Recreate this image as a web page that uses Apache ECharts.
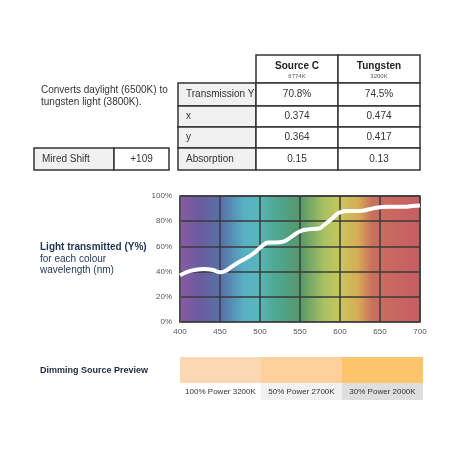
<!DOCTYPE html>
<html><head><meta charset="utf-8">
<script src="https://cdn.jsdelivr.net/npm/echarts@6/dist/echarts.min.js"></script>
<style>html,body{margin:0;padding:0;background:#fff}#c{width:458px;height:458px}</style>
</head><body><div id="c"></div>
<script>
const wavelengths=[400,410,420,430,440,450,455,465,475,485,495,500,505,510,520,530,540,550,560,570,575,580,590,600,610,620,630,640,650,660,670,680,690,700];
const transmission=[37,40,41.5,42,41.5,39.5,40,44,48,51.5,56,59,61.5,63,63,64,68,72,73.5,74,74.5,77,82,87,88,88,88.5,90,91,91.5,91.5,91.5,92,92.5];
const yTicks=[0,20,40,60,80,100];
const headers=[["Source C","6774K"],["Tungsten","3200K"]];
const rowLabels=["Transmission Y","x","y","Absorption"];
const sourceC=["70.8%","0.374","0.364","0.15"];
const tungsten=["74.5%","0.474","0.417","0.13"];
const miredLabel="Mired Shift", miredValue="+109";
const dimLabels=["100% Power 3200K","50% Power 2700K","30% Power 2000K"];
const dimColors=["#fcd8b2","#fdd09c","#fdc56b"];
const dimLabelBg=["#ffffff","#f1f1f1","#dedede"];

const g=[];
const F='Liberation Sans, Arial, sans-serif';
function cell(x,y,w,h,fill,txt,align,size,bold){
  g.push({type:'rect',shape:{x,y,width:w,height:h},style:{fill,stroke:'#333',lineWidth:1.5}});
  if(txt!==undefined) g.push({type:'text',x:align==='left'?x+8:x+w/2,y:y+h/2,style:{text:txt,fill:'#333',font:(bold?'bold ':'')+(size||10)+'px '+F,textAlign:align==='left'?'left':'center',textVerticalAlign:'middle'}});
}
// header
const cx=[256,338], cw=82;
headers.forEach((h,i)=>{
  cell(cx[i],55,cw,28,'#fff');
  g.push({type:'text',x:cx[i]+cw/2,y:66,style:{text:h[0],fill:'#222',font:'bold 10px '+F,textAlign:'center',textVerticalAlign:'middle'}});
  g.push({type:'text',x:cx[i]+cw/2,y:76,style:{text:h[1],fill:'#555',font:'6px '+F,textAlign:'center',textVerticalAlign:'middle'}});
});
const ry=[83,106,127,148], rh=[23,21,21,22];
rowLabels.forEach((l,i)=>{
  cell(178,ry[i],78,rh[i],'#f1f1f1',l,'left',10);
  cell(256,ry[i],82,rh[i],'#fff',sourceC[i],'center',10);
  cell(338,ry[i],82,rh[i],'#fff',tungsten[i],'center',10);
});
cell(34,148,80,22,'#f1f1f1',miredLabel,'left',10);
cell(114,148,55,22,'#fff',miredValue,'center',10);
g.push({type:'text',x:41,y:96,style:{text:'Converts daylight (6500K) to\ntungsten light (3800K).',fill:'#333',font:'10px '+F,lineHeight:12,textVerticalAlign:'middle'}});
g.push({type:'text',x:40,y:247,style:{text:'Light transmitted (Y%)',fill:'#1e3452',font:'bold 10px '+F,textVerticalAlign:'middle'}});
g.push({type:'text',x:40,y:265,style:{text:'for each colour\nwavelength (nm)',fill:'#1e3452',font:'10px '+F,lineHeight:11,textVerticalAlign:'middle'}});
g.push({type:'text',x:40,y:371,style:{text:'Dimming Source Preview',fill:'#1e2a3a',font:'bold 9px '+F,textVerticalAlign:'middle'}});
dimLabels.forEach((l,i)=>{
  const x=180+i*81;
  g.push({type:'rect',shape:{x,y:357,width:81,height:26},style:{fill:dimColors[i]}});
  g.push({type:'rect',shape:{x,y:383,width:81,height:17},style:{fill:dimLabelBg[i]}});
  g.push({type:'text',x:x+40.5,y:392,style:{text:l,fill:'#333',font:'8px '+F,textAlign:'center',textVerticalAlign:'middle'}});
});

const spectrum={type:'linear',x:0,y:0,x2:1,y2:0,colorStops:[
 {offset:0,color:'#8a5aa6'},{offset:0.08,color:'#6c5c9e'},{offset:0.17,color:'#5870a8'},{offset:0.27,color:'#58b0c4'},
 {offset:0.33,color:'#58b6b8'},{offset:0.4,color:'#4fa894'},{offset:0.5,color:'#55976a'},{offset:0.6,color:'#a8c262'},
 {offset:0.67,color:'#c8c65e'},{offset:0.74,color:'#d6ac54'},{offset:0.8,color:'#c8705e'},{offset:1,color:'#c85c62'}]};

const chart=echarts.init(document.getElementById('c'));
chart.setOption({
  animation:false,
  grid:{left:180,right:38,top:196,bottom:136,show:true,backgroundColor:spectrum,borderColor:'#444',borderWidth:1.5},
  xAxis:{type:'value',min:400,max:700,interval:50,axisLine:{lineStyle:{color:'#555'}},axisTick:{show:false},
    axisLabel:{color:'#555',fontSize:8,fontFamily:F,margin:6},splitLine:{lineStyle:{color:'#3a3a3a',width:1.5}}},
  yAxis:{type:'value',min:0,max:100,interval:20,axisLine:{show:true,lineStyle:{color:'#555'}},axisTick:{show:false},
    axisLabel:{color:'#555',fontSize:8,fontFamily:F,formatter:v=>yTicks.includes(v)?v+'%':''},splitLine:{lineStyle:{color:'#3a3a3a',width:1.5}}},
  series:[{type:'line',smooth:true,symbol:'none',data:wavelengths.map((w,i)=>[w,transmission[i]]),lineStyle:{color:'#fff',width:4}}],
  graphic:g
});
</script></body></html>
